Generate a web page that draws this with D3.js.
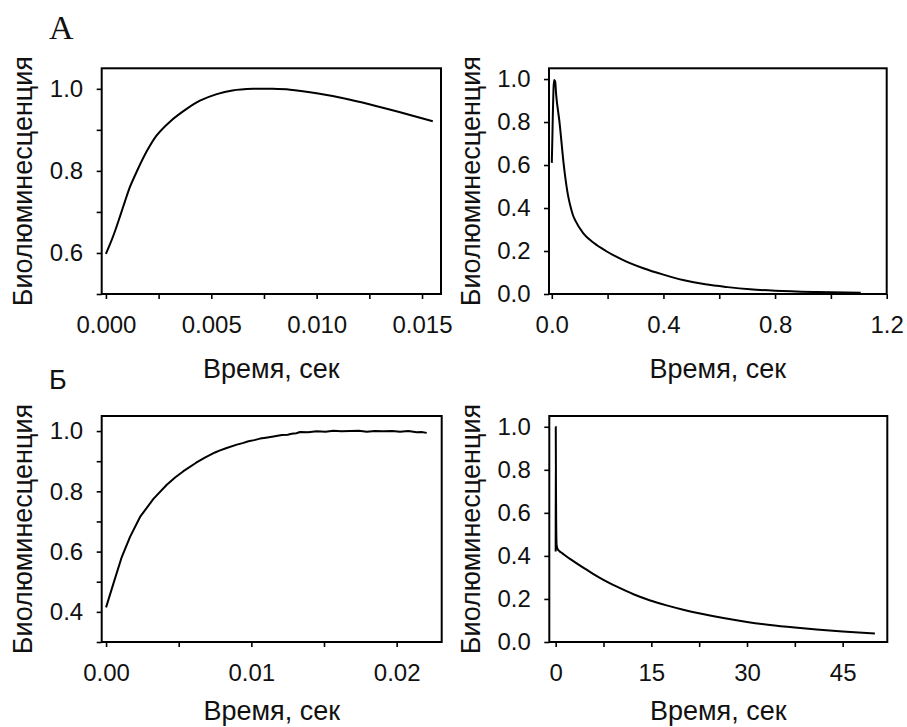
<!DOCTYPE html>
<html><head><meta charset="utf-8">
<script src="https://cdn.jsdelivr.net/npm/d3@7"></script>
<style>body{margin:0;background:#fff}</style>
</head><body>
<svg id="chart" width="907" height="727"></svg>
<script>
// ---- text ----
const yLabelText = "Биолюминесценция";
const xLabelText = "Время, сек";
const panelLetters = ["А", "Б"];

// ---- panel A, left ----
const a1Time  = [0, 0.0002, 0.00043, 0.0007, 0.0009, 0.00115, 0.00146, 0.00193, 0.0024, 0.00304, 0.00383, 0.00446, 0.00526, 0.006, 0.007, 0.0078, 0.00874, 0.01, 0.01127, 0.01254, 0.01396, 0.01551];
const a1Value = [0.598, 0.622, 0.653, 0.694, 0.725, 0.762, 0.798, 0.847, 0.886, 0.92, 0.951, 0.971, 0.987, 0.996, 1.0, 1.0, 0.998, 0.989, 0.977, 0.962, 0.943, 0.921];
const a1XTicks = [0, 0.005, 0.01, 0.015];
const a1XLabels = ["0.000", "0.005", "0.010", "0.015"];
const a1XMinor = [0.0025, 0.0075, 0.0125];
const a1YTicks = [0.6, 0.8, 1.0];
const a1YLabels = ["0.6", "0.8", "1.0"];
const a1YMinor = [0.5, 0.7, 0.9];

// ---- panel A, right ----
const a2Time  = [0, 0.002, 0.004, 0.006, 0.008, 0.012, 0.0155, 0.0276, 0.043, 0.053, 0.058, 0.0655, 0.075, 0.085, 0.113, 0.15, 0.194, 0.256, 0.328, 0.4, 0.47, 0.55, 0.63, 0.71, 0.8, 0.95, 1.107];
const a2Value = [0.61, 0.72, 0.85, 0.95, 0.995, 0.99, 0.93, 0.8, 0.6, 0.5, 0.46, 0.415, 0.37, 0.34, 0.282, 0.238, 0.2, 0.158, 0.12, 0.09, 0.065, 0.045, 0.032, 0.022, 0.015, 0.009, 0.006];
const a2XTicks = [0, 0.4, 0.8, 1.2];
const a2XLabels = ["0.0", "0.4", "0.8", "1.2"];
const a2XMinor = [0.2, 0.6, 1.0];
const a2YTicks = [0, 0.2, 0.4, 0.6, 0.8, 1.0];
const a2YLabels = ["0.0", "0.2", "0.4", "0.6", "0.8", "1.0"];
const a2YMinor = [];

// ---- panel Б, left ----
const b1Time  = [0, 0.0005, 0.00108, 0.00165, 0.00234, 0.00326, 0.00418, 0.00475, 0.0053, 0.0062, 0.0068, 0.0075, 0.0078, 0.0083, 0.009, 0.0094, 0.0098, 0.0102, 0.0106, 0.011, 0.01152, 0.0121, 0.0125, 0.01278, 0.0131, 0.01335, 0.0139, 0.0145, 0.0151, 0.01564, 0.0162, 0.0168, 0.0174, 0.01794, 0.0185, 0.01908, 0.0197, 0.02023, 0.0208, 0.02138, 0.0217, 0.02207];
const b1Value = [0.415, 0.493, 0.582, 0.649, 0.715, 0.775, 0.822, 0.846, 0.866, 0.895, 0.912, 0.929, 0.935, 0.944, 0.955, 0.96, 0.966, 0.97, 0.975, 0.978, 0.982, 0.987, 0.988, 0.991, 0.993, 0.997, 0.996, 0.999, 0.998, 1.001, 0.999, 1.0, 1.001, 0.998, 1.0, 0.999, 1.0, 0.998, 1.0, 0.996, 0.997, 0.994];
const b1XTicks = [0, 0.01, 0.02];
const b1XLabels = ["0.00", "0.01", "0.02"];
const b1XMinor = [0.005, 0.015];
const b1YTicks = [0.4, 0.6, 0.8, 1.0];
const b1YLabels = ["0.4", "0.6", "0.8", "1.0"];
const b1YMinor = [0.3, 0.5, 0.7, 0.9];

// ---- panel Б, right ----
const b2Time  = [0, 0.015, 0.04, 0.08, 0.15, 0.3, 0.6, 1.0, 1.5, 2.3, 3.3, 4.38, 5.7, 7.0, 8.3, 9.6, 12.2, 14.83, 17.4, 20.0, 22.66, 26.3, 30.0, 33.6, 37.5, 40.9, 45.0, 47.5, 50.06];
const b2Value = [0.42, 1.0, 0.75, 0.55, 0.45, 0.432, 0.422, 0.413, 0.402, 0.385, 0.365, 0.344, 0.32, 0.297, 0.276, 0.257, 0.222, 0.193, 0.17, 0.15, 0.132, 0.111, 0.093, 0.079, 0.067, 0.058, 0.049, 0.044, 0.04];
const b2XTicks = [0, 15, 30, 45];
const b2XLabels = ["0", "15", "30", "45"];
const b2XMinor = [7.5, 22.5, 37.5];
const b2YTicks = [0, 0.2, 0.4, 0.6, 0.8, 1.0];
const b2YLabels = ["0.0", "0.2", "0.4", "0.6", "0.8", "1.0"];
const b2YMinor = [];

// ---- layout ----
const panels = [
  {t: a1Time, v: a1Value, box: [101.7, 68.3, 441, 294], xd: [-0.0002, 0.0159], yd: [0.5, 1.05],
   xt: a1XTicks, xl: a1XLabels, xm: a1XMinor, yt: a1YTicks, yl: a1YLabels, ym: a1YMinor,
   curve: d3.curveCatmullRom.alpha(0.5), xlab: 84},
  {t: a2Time, v: a2Value, box: [549, 68.3, 886.7, 294], xd: [-0.01, 1.2], yd: [0, 1.05],
   xt: a2XTicks, xl: a2XLabels, xm: a2XMinor, yt: a2YTicks, yl: a2YLabels, ym: a2YMinor,
   curve: d3.curveMonotoneX, xlab: 84},
  {t: b1Time, v: b1Value, box: [101.7, 416, 441.7, 642], xd: [-0.0003, 0.0231], yd: [0.3, 1.05],
   xt: b1XTicks, xl: b1XLabels, xm: b1XMinor, yt: b1YTicks, yl: b1YLabels, ym: b1YMinor,
   curve: d3.curveLinear, xlab: 78},
  {t: b2Time, v: b2Value, box: [549.3, 416, 887.3, 642], xd: [-1, 52], yd: [0, 1.05],
   xt: b2XTicks, xl: b2XLabels, xm: b2XMinor, yt: b2YTicks, yl: b2YLabels, ym: b2YMinor,
   curve: d3.curveMonotoneX, xlab: 78}
];

const svg = d3.select("#chart");
const sans = "'Liberation Sans', Arial, Helvetica, sans-serif";
const tickFont = 24, labelFont = 27;
const ink = "#111";

panels.forEach(p => {
  const [x0, y0, x1, y1] = p.box;
  const w = x1 - x0, h = y1 - y0;
  const x = d3.scaleLinear().domain(p.xd).range([0, w]);
  const y = d3.scaleLinear().domain(p.yd).range([h, 0]);
  const g = svg.append("g").attr("transform", `translate(${x0},${y0})`);

  const xFmt = d => { const i = p.xt.indexOf(d); return i >= 0 ? p.xl[i] : ""; };
  const yFmt = d => { const i = p.yt.indexOf(d); return i >= 0 ? p.yl[i] : ""; };

  const gx = g.append("g").attr("transform", `translate(0,${h})`)
    .call(d3.axisBottom(x).tickValues(p.xt.concat(p.xm)).tickSize(5).tickPadding(16.8).tickFormat(xFmt));
  const gy = g.append("g")
    .call(d3.axisLeft(y).tickValues(p.yt.concat(p.ym)).tickSize(5).tickPadding(13.5).tickFormat(yFmt));
  [gx, gy].forEach(a => {
    a.select(".domain").remove();
    a.selectAll(".tick line").attr("stroke", "#000").attr("stroke-width", 1.6);
    a.selectAll(".tick text").attr("font-family", sans).attr("font-size", tickFont).attr("fill", ink);
  });

  const line = d3.line().x((d, i) => x(p.t[i])).y(d => y(d)).curve(p.curve);
  g.append("path").attr("d", line(p.v)).attr("fill", "none").attr("stroke", "#000")
    .attr("stroke-width", 2).attr("stroke-linejoin", "round");

  g.append("rect").attr("x", 0).attr("y", 0).attr("width", w).attr("height", h)
    .attr("fill", "none").attr("stroke", "#000").attr("stroke-width", 2);

  g.append("text").attr("transform", `translate(${-78.5},${h / 2}) rotate(-90)`)
    .attr("text-anchor", "middle").attr("dominant-baseline", "central")
    .attr("font-family", sans).attr("font-size", labelFont).attr("fill", ink).text(yLabelText);

  g.append("text").attr("x", w / 2).attr("y", h + p.xlab)
    .attr("text-anchor", "middle").attr("font-family", sans).attr("font-size", labelFont)
    .attr("fill", ink).text(xLabelText);
});

svg.append("text").attr("x", 49).attr("y", 39)
  .attr("font-family", "'Liberation Serif', 'Times New Roman', serif").attr("font-size", 34)
  .attr("fill", ink).text(panelLetters[0]);
svg.append("text").attr("x", 49).attr("y", 389)
  .attr("font-family", sans).attr("font-size", 27)
  .attr("fill", ink).text(panelLetters[1]);
</script>
</body></html>
